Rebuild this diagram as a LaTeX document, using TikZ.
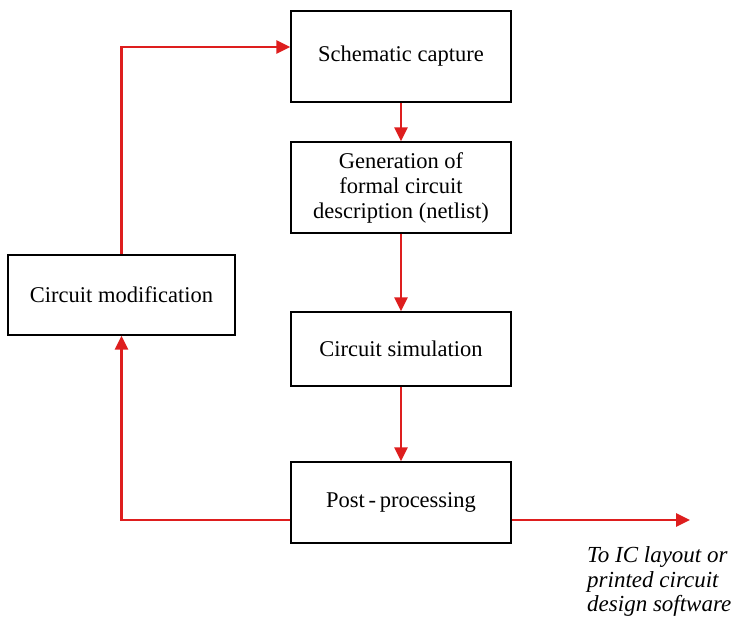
\documentclass[tikz,border=0pt]{standalone}
\usepackage{fontspec}
\setmainfont{Liberation Serif}
\usetikzlibrary{arrows.meta}
\definecolor{flowred}{RGB}{222,30,30}
\begin{document}
\begin{tikzpicture}[x=1pt,y=-1pt,
  stepbox/.style={draw=black,line width=1.3pt,minimum width=220pt,align=center,font=\fontsize{22.5}{25}\selectfont,inner sep=0pt},
  flow/.style={draw=flowred,line width=2.6pt,-{Triangle[length=14pt,width=13pt]}}]
\useasboundingbox (0,0) rectangle (733,617);
\node[stepbox,minimum height=91pt] (cap) at (401,56.5) {Schematic capture};
\node[stepbox,minimum height=91pt] (gen) at (401,187.5) {Generation of\\formal circuit\\description (netlist)};
\node[stepbox,minimum height=74pt] (sim) at (401,349) {Circuit simulation};
\node[stepbox,minimum height=81pt] (post) at (401,502.5) {Post\,-\,processing};
\node[stepbox,minimum width=227pt,minimum height=80pt] (mod) at (121.5,295) {Circuit modification};
\coordinate (out) at (690,520);
\draw[flow] (cap) -- (gen);
\draw[flow] (gen) -- (sim);
\draw[flow] (sim) -- (post);
\draw[flow] (post.west |- 0,520) -| (mod.south);
\draw[flow] (mod.north) |- (cap.west |- 0,47);
\draw[flow] (post.east |- 0,520) -- (out);
\node[anchor=north west,align=left,font=\itshape\fontsize{23}{24.5}\selectfont,inner sep=0pt] (lbl) at (587,546.5) {To IC layout or\\printed circuit\\design software};
\end{tikzpicture}
\end{document}
